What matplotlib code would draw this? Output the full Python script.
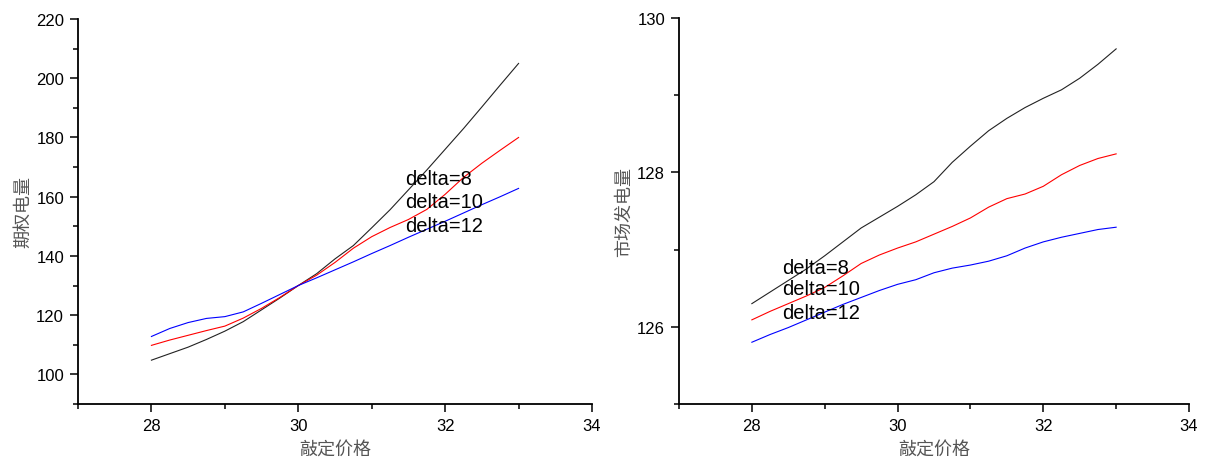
import matplotlib

matplotlib.use("Agg")
import matplotlib.pyplot as plt
from matplotlib.ticker import MultipleLocator

plt.rcParams["font.family"] = ["Liberation Sans", "Noto Sans CJK SC", "DejaVu Sans"]

# strike price grid
price = [28, 28.25, 28.5, 28.75, 29, 29.25, 29.5, 29.75, 30, 30.25, 30.5,
         30.75, 31, 31.25, 31.5, 31.75, 32, 32.25, 32.5, 32.75, 33]

# left panel: option volume
opt_d8 = [104.8, 107, 109.2, 111.8, 114.6, 117.8, 121.8, 125.8, 130, 134, 139,
          143.5, 149.5, 155.6, 162.3, 169, 176, 183, 190.3, 197.7, 205]
opt_d10 = [109.8, 111.6, 113.2, 114.8, 116.3, 119, 122.3, 126, 130, 133.5, 137.8,
           142.6, 146.5, 149.6, 152.3, 155.7, 160.8, 166.5, 171.3, 175.7, 180]
opt_d12 = [112.8, 115.5, 117.5, 118.9, 119.5, 121.1, 124, 127, 130, 132.6, 135.3,
           138, 140.8, 143.5, 146.3, 149, 151.7, 154.5, 157.3, 160, 162.8]

# right panel: market generation
mkt_d8 = [126.3, 126.45, 126.6, 126.75, 126.92, 127.1, 127.28, 127.42, 127.56, 127.71, 127.88,
          128.13, 128.34, 128.54, 128.7, 128.84, 128.96, 129.07, 129.22, 129.4, 129.6]
mkt_d10 = [126.09, 126.2, 126.3, 126.4, 126.51, 126.66, 126.82, 126.93, 127.02, 127.1, 127.2,
           127.3, 127.41, 127.55, 127.66, 127.72, 127.82, 127.97, 128.09, 128.18, 128.24]
mkt_d12 = [125.8, 125.9, 125.99, 126.09, 126.19, 126.29, 126.38, 126.47, 126.55, 126.61, 126.7,
           126.76, 126.8, 126.85, 126.92, 127.02, 127.1, 127.16, 127.21, 127.26, 127.29]

labels = ["delta=8", "delta=10", "delta=12"]
colors = ["#222222", "red", "blue"]
cn = ["Noto Sans CJK SC", "DejaVu Sans"]
label_color = "#555555"

fig = plt.figure(figsize=(12.06, 4.6), dpi=100)
ax1 = fig.add_axes([78 / 1206, 55 / 460, 514 / 1206, 385 / 460])
ax2 = fig.add_axes([679 / 1206, 55 / 460, 510 / 1206, 386 / 460])


def style(ax, ylim, ymaj, ymin):
    ax.set_xlim(27, 34)
    ax.set_ylim(*ylim)
    ax.xaxis.set_major_locator(MultipleLocator(2))
    ax.xaxis.set_minor_locator(MultipleLocator(1))
    ax.yaxis.set_major_locator(MultipleLocator(ymaj))
    ax.yaxis.set_minor_locator(MultipleLocator(ymin))
    for s in ("top", "right"):
        ax.spines[s].set_visible(False)
    for s in ("left", "bottom"):
        ax.spines[s].set_linewidth(1.3)
    ax.tick_params(which="major", direction="out", length=6, width=1.1, labelsize=12, pad=4)
    ax.tick_params(which="minor", direction="out", length=3.5, width=1.1)
    ax.set_xlabel("敲定价格", family=cn, fontsize=13, color=label_color, labelpad=5)


for ys, c in zip([opt_d8, opt_d10, opt_d12], colors):
    ax1.plot(price, ys, color=c, lw=0.8)
style(ax1, (90, 220), 20, 10)
ax1.set_ylabel("期权电量", family=cn, fontsize=13, color=label_color, labelpad=3)
for lab, y in zip(labels, [166.1, 158.4, 150.2]):
    ax1.text(31.45, y, lab, fontsize=14.5, va="center", ha="left")

for ys, c in zip([mkt_d8, mkt_d10, mkt_d12], colors):
    ax2.plot(price, ys, color=c, lw=0.8)
style(ax2, (125, 130), 2, 1)
ax2.set_ylabel("市场发电量", family=cn, fontsize=13, color=label_color, labelpad=3)
for lab, y in zip(labels, [126.77, 126.49, 126.19]):
    ax2.text(28.42, y, lab, fontsize=14.5, va="center", ha="left")

fig.savefig("out.png", dpi=100)
